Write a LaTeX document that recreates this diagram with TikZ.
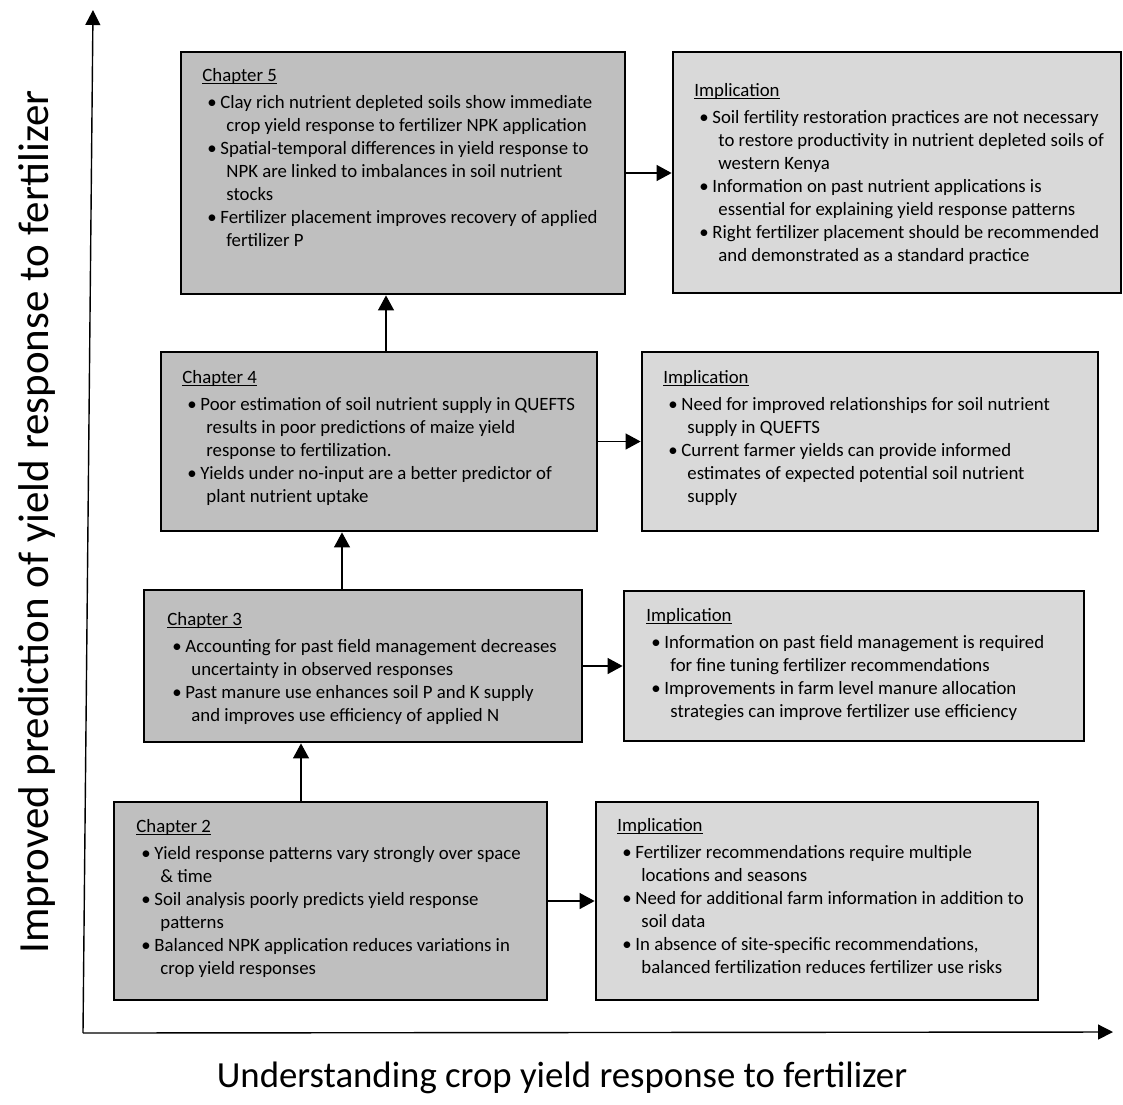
\documentclass[tikz,border=0pt]{standalone}
\usepackage{fontspec}
\setmainfont{Carlito}
\usetikzlibrary{arrows.meta}
\definecolor{chapfill}{HTML}{BFBFBF}
\definecolor{implfill}{HTML}{D9D9D9}
\newlength{\headwd}
\newcommand{\headline}[1]{\settowidth{\headwd}{#1}#1\llap{\rule[-1.4pt]{\headwd}{0.5pt}}}
\newcommand{\bitem}{\hspace*{2.5pt}\makebox[6.5pt][l]{\textbullet}}
\newcommand{\bcont}{\hspace*{12pt}}
\tikzset{
  box/.style={rectangle, draw=black, line width=1.4pt, inner sep=0pt},
  chapbox/.style={box, fill=chapfill},
  implbox/.style={box, fill=implfill},
  boxtext/.style={anchor=north west, align=left, inner sep=0pt, font=\fontsize{9.4}{11.5}\selectfont},
  flow/.style={-{Triangle[length=7.5pt, width=8pt]}, line width=0.6pt},
  axis/.style={-{Triangle[length=7.5pt, width=7.5pt]}, line width=0.7pt},
  axislabel/.style={font=\fontsize{18.4}{21}\selectfont}
}

\begin{document}
\begin{tikzpicture}[x=0.5pt, y=-0.5pt]
\useasboundingbox (0,0) rectangle (1123,1104);

% axes
\coordinate (origin) at (83,1033);
\coordinate (ytip) at (93,10);
\coordinate (xtip) at (1113,1032);
\draw[axis] (origin) -- (ytip);
\draw[axis] (origin) -- (xtip);
\node[axislabel, font=\fontsize{21.5}{24}\selectfont, rotate=90] (ylabel) at (37,522) {Improved prediction of yield response to fertilizer};
\node[axislabel] (xlabel) at (562,1078) {Understanding crop yield response to fertilizer};

% chapter 5
\node[chapbox, minimum width=222pt, minimum height=121pt] (ch5) at (403,173) {};
\node[implbox, minimum width=224pt, minimum height=120.5pt] (impl5) at (897,172.5) {};
\node[boxtext] (ch5text) at (202,68) {\headline{Chapter 5}\\[2pt]
\bitem Clay rich nutrient depleted soils show immediate\\
\bcont crop yield response to fertilizer NPK application\\
\bitem Spatial-temporal differences in yield response to\\
\bcont NPK are linked to imbalances in soil nutrient\\
\bcont stocks\\
\bitem Fertilizer placement improves recovery of applied\\
\bcont fertilizer P};
\node[boxtext] (impl5text) at (694,83) {\headline{Implication}\\[2pt]
\bitem Soil fertility restoration practices are not necessary\\
\bcont to restore productivity in nutrient depleted soils of\\
\bcont western Kenya\\
\bitem Information on past nutrient applications is\\
\bcont essential for explaining yield response patterns\\
\bitem Right fertilizer placement should be recommended\\
\bcont and demonstrated as a standard practice};

% chapter 4
\node[chapbox, minimum width=218pt, minimum height=89.5pt] (ch4) at (379,441.5) {};
\node[implbox, minimum width=228pt, minimum height=89.5pt] (impl4) at (870,441.5) {};
\node[boxtext] (ch4text) at (182,370) {\headline{Chapter 4}\\[2pt]
\bitem Poor estimation of soil nutrient supply in QUEFTS\\
\bcont results in poor predictions of maize yield\\
\bcont response to fertilization.\\
\bitem Yields under no-input are a better predictor of\\
\bcont plant nutrient uptake};
\node[boxtext] (impl4text) at (663,370) {\headline{Implication}\\[2pt]
\bitem Need for improved relationships for soil nutrient\\
\bcont supply in QUEFTS\\
\bitem Current farmer yields can provide informed\\
\bcont estimates of expected potential soil nutrient\\
\bcont supply};

% chapter 3
\node[chapbox, minimum width=219pt, minimum height=76pt] (ch3) at (363,666) {};
\node[implbox, minimum width=230pt, minimum height=75pt] (impl3) at (854,666) {};
\node[boxtext] (ch3text) at (167,612) {\headline{Chapter 3}\\[2pt]
\bitem Accounting for past field management decreases\\
\bcont uncertainty in observed responses\\
\bitem Past manure use enhances soil P and K supply\\
\bcont and improves use efficiency of applied N};
\node[boxtext] (impl3text) at (646,608) {\headline{Implication}\\[2pt]
\bitem Information on past field management is required\\
\bcont for fine tuning fertilizer recommendations\\
\bitem Improvements in farm level manure allocation\\
\bcont strategies can improve fertilizer use efficiency};

% chapter 2
\node[chapbox, minimum width=216.5pt, minimum height=99pt] (ch2) at (330.5,901) {};
\node[implbox, minimum width=221pt, minimum height=99pt] (impl2) at (817,901) {};
\node[boxtext] (ch2text) at (136,819) {\headline{Chapter 2}\\[2pt]
\bitem Yield response patterns vary strongly over space\\
\bcont \& time\\
\bitem Soil analysis poorly predicts yield response\\
\bcont patterns\\
\bitem Balanced NPK application reduces variations in\\
\bcont crop yield responses};
\node[boxtext] (impl2text) at (617,818) {\headline{Implication}\\[2pt]
\bitem Fertilizer recommendations require multiple\\
\bcont locations and seasons\\
\bitem Need for additional farm information in addition to\\
\bcont soil data\\
\bitem In absence of site-specific recommendations,\\
\bcont balanced fertilization reduces fertilizer use risks};

% chapter to implication
\draw[flow] (ch5.east) -- (impl5.west |- ch5.east);
\draw[flow] (ch4.east) -- (impl4.west |- ch4.east);
\draw[flow] (ch3.east) -- (impl3.west |- ch3.east);
\draw[flow] (ch2.east) -- (impl2.west |- ch2.east);

% chapter to next chapter
\draw[flow] ([xshift=-14.75pt]ch2.north) -- ([xshift=-14.75pt]ch2.north |- ch3.south);
\draw[flow] ([xshift=-10.5pt]ch3.north) -- ([xshift=-10.5pt]ch3.north |- ch4.south);
\draw[flow] ([xshift=3.5pt]ch4.north) -- ([xshift=3.5pt]ch4.north |- ch5.south);

\end{tikzpicture}
\end{document}
